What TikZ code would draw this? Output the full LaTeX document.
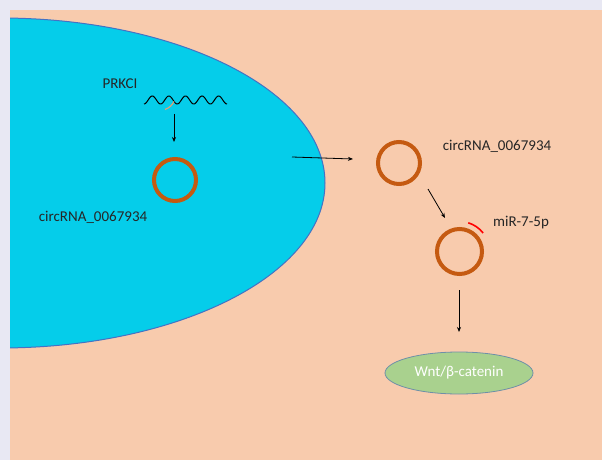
\documentclass[tikz,border=0pt]{standalone}
\usepackage{fontspec}
\setmainfont{Carlito}
\usetikzlibrary{arrows.meta,shapes.geometric}
\definecolor{frame}{HTML}{E8E8F3}
\definecolor{peach}{HTML}{F8CBAD}
\definecolor{cellblue}{HTML}{05CDEA}
\definecolor{cellline}{HTML}{4472C4}
\definecolor{ringorange}{HTML}{C55A11}
\definecolor{leafgreen}{HTML}{A9D18E}
\definecolor{leafline}{HTML}{6E8FA8}
\definecolor{tan}{HTML}{D9A37A}
\tikzset{
  ring/.style={draw=ringorange, line width=4bp, circle, minimum size=42bp, inner sep=0pt},
  lbl/.style={font=\fontsize{15bp}{17bp}\selectfont, text=black!85, inner sep=0pt},
  flow/.style={-{Stealth[length=5bp,width=4bp]}, line width=0.8bp, black},
}
\begin{document}
\begin{tikzpicture}[x=1bp,y=-1bp]
  \useasboundingbox (0,0) rectangle (602,460);
  % page frame and cytoplasm
  \fill[frame] (0,0) rectangle (602,460);
  \fill[peach] (10,10) rectangle (602,460);
  % nucleus, cut at the left edge of the panel
  \begin{scope}
    \clip (10,10) rectangle (602,460);
    \draw[fill=cellblue, draw=cellline, line width=1bp] (0,183) ellipse [x radius=325, y radius=165];
  \end{scope}

  % PRKCI gene as a wavy strand
  \node[lbl] (prkci) at (120,84) {PRKCI};
  \draw[black, line width=1bp] plot[domain=0:83, samples=200, smooth] ({144+\x},{100+4*cos(\x*21.7)});
  \draw[tan, line width=1.2bp] (165,109.5) to[bend right=20] (174,101.5);

  % nuclear circRNA
  \coordinate (g1) at (174,114);
  \coordinate (g2) at (174,142);
  \draw[flow] (g1) -- (g2);
  \node[ring] (c1) at (175,180) {};
  \node[lbl] (c1lbl) at (93,217) {circRNA\_0067934};

  % export to the cytoplasm
  \coordinate (e1) at (292,157);
  \coordinate (e2) at (353,159);
  \draw[flow] (e1) -- (e2);
  \node[ring] (c2) at (399,163) {};
  \node[lbl] (c2lbl) at (497,146) {circRNA\_0067934};

  % sponging of miR-7-5p
  \coordinate (s1) at (428,189);
  \coordinate (s2) at (445,218);
  \draw[flow] (s1) -- (s2);
  \node[ring, minimum width=43bp, minimum height=45bp] (c3) at (459.5,251.5) {};
  \draw[red, line width=1.6bp] (c3.center) ++(-73:30) arc[start angle=-73, end angle=-38, radius=30];
  \node[lbl] (mirlbl) at (521,223) {miR-7-5p};

  % downstream pathway
  \coordinate (w1) at (459,290);
  \coordinate (w2) at (459,332);
  \draw[flow] (w1) -- (w2);
  \node[draw=leafline, fill=leafgreen, ellipse, minimum width=148bp, minimum height=42bp, inner sep=0pt, line width=0.8bp,
        font=\fontsize{15bp}{17bp}\selectfont, text=white] (wnt) at (459,373) {Wnt/β-catenin};
\end{tikzpicture}
\end{document}
